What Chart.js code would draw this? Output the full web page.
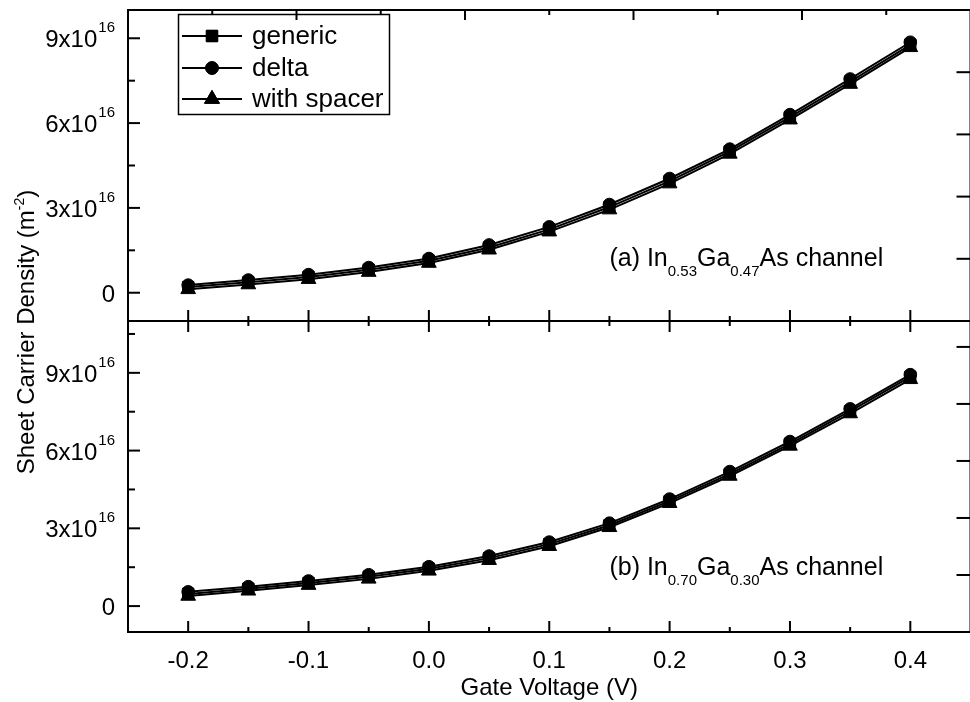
<!DOCTYPE html>
<html>
<head>
<meta charset="utf-8">
<style>
html,body{margin:0;padding:0;background:#fff;overflow:hidden;width:970px;height:702px;}
#wrap{position:relative;width:980px;height:702px;}
canvas{display:block;}
</style>
<script src="https://cdn.jsdelivr.net/npm/chart.js@4.4.0/dist/chart.umd.min.js"></script>
</head>
<body>
<div id="wrap"><canvas id="c" width="980" height="702"></canvas></div>
<script>
// ---------- data: sheet carrier density in units of 10^16 m^-2 ----------
const EXPONENT = 16;
const voltages = [-0.2, -0.15, -0.1, -0.05, 0.0, 0.05, 0.1, 0.15, 0.2, 0.25, 0.3, 0.35, 0.4];
const seriesNames = ['generic', 'delta', 'with spacer'];

// (a) In0.53Ga0.47As channel
const topGeneric = [0.20, 0.37, 0.56, 0.81, 1.13, 1.60, 2.24, 3.03, 3.95, 5.00, 6.21, 7.47, 8.77];
const topDelta   = [0.27, 0.45, 0.64, 0.89, 1.21, 1.69, 2.33, 3.12, 4.04, 5.08, 6.30, 7.56, 8.86];
const topSpacer  = [0.12, 0.29, 0.48, 0.73, 1.05, 1.52, 2.16, 2.94, 3.86, 4.91, 6.12, 7.38, 8.68];

// (b) In0.70Ga0.30As channel
const botGeneric = [0.47, 0.67, 0.89, 1.13, 1.44, 1.85, 2.39, 3.12, 4.05, 5.10, 6.26, 7.52, 8.84];
const botDelta   = [0.55, 0.75, 0.97, 1.21, 1.52, 1.93, 2.47, 3.20, 4.13, 5.19, 6.35, 7.61, 8.93];
const botSpacer  = [0.39, 0.59, 0.81, 1.05, 1.36, 1.77, 2.31, 3.04, 3.97, 5.02, 6.18, 7.43, 8.75];

const xTickLabels = ['-0.2', '-0.1', '0.0', '0.1', '0.2', '0.3', '0.4'];
const xTitle = 'Gate Voltage (V)';
const yTitleMain = 'Sheet Carrier Density (m';
const yTitleSup = '-2';
const yTitleEnd = ')';
// panel notes: [text, isSubscript]
const noteTop = [['(a) In', 0], ['0.53', 1], ['Ga', 0], ['0.47', 1], ['As channel', 0]];
const noteBot = [['(b) In', 0], ['0.70', 1], ['Ga', 0], ['0.30', 1], ['As channel', 0]];

// ---------- chart ----------
const FONT = '"Liberation Sans", Arial, Helvetica, sans-serif';
Chart.defaults.font.family = FONT;

const styles = [
  {pointStyle: 'rect', r: 8},
  {pointStyle: 'circle', r: 6.3},
  {pointStyle: 'triangle', r: 8.5}
];
const orders = [3, 2, 1];

function mk(i, values, axis) {
  return {
    label: seriesNames[i],
    data: voltages.map((x, k) => ({x: x, y: values[k]})),
    yAxisID: axis,
    borderColor: '#000',
    backgroundColor: '#000',
    borderWidth: 2,
    pointStyle: styles[i].pointStyle,
    pointRadius: styles[i].r,
    pointHoverRadius: styles[i].r,
    pointBorderColor: '#000',
    pointBackgroundColor: '#000',
    pointBorderWidth: 1,
    tension: 0,
    fill: false,
    order: orders[i]
  };
}

const datasets = [
  mk(0, topGeneric, 'yTop'), mk(1, topDelta, 'yTop'), mk(2, topSpacer, 'yTop'),
  mk(0, botGeneric, 'yBot'), mk(1, botDelta, 'yBot'), mk(2, botSpacer, 'yBot')
];

function isMult(v, step) {
  const q = v / step;
  return Math.abs(q - Math.round(q)) < 1e-6;
}

// minor tick step 1.5 (x10^16), majors every 3
function yTicks(s) {
  const step = 1.5, out = [];
  for (let k = Math.ceil(s.min / step); k * step <= s.max + 1e-9; k++) {
    out.push({value: +(k * step).toFixed(6)});
  }
  s.ticks = out;
}

function drawMarker(ctx, style, r, x, y) {
  if (Chart.helpers && Chart.helpers.drawPoint) {
    Chart.helpers.drawPoint(ctx, {pointStyle: style, radius: r, rotation: 0, borderWidth: 1}, x, y);
    ctx.fill();
    ctx.stroke();
  }
}

function drawRich(ctx, parts, x, y, mainPx, subPx, subDy) {
  let cx = x;
  for (const [t, sub] of parts) {
    ctx.font = (sub ? subPx : mainPx) + 'px ' + FONT;
    ctx.fillText(t, cx, y + (sub ? subDy : 0));
    cx += ctx.measureText(t).width;
  }
}

const decor = {
  id: 'decor',
  afterDraw(chart) {
    const ctx = chart.ctx;
    const xs = chart.scales.x, yt = chart.scales.yTop, yb = chart.scales.yBot;
    const L = chart.chartArea.left, R = chart.chartArea.right;
    ctx.save();
    ctx.strokeStyle = '#000';
    ctx.fillStyle = '#000';
    ctx.lineWidth = 2;
    ctx.lineCap = 'butt';
    const line = (x1, y1, x2, y2) => { ctx.beginPath(); ctx.moveTo(x1, y1); ctx.lineTo(x2, y2); ctx.stroke(); };

    // frames
    ctx.strokeRect(L, yt.top, R - L, yt.bottom - yt.top);
    ctx.strokeRect(L, yb.top, R - L, yb.bottom - yb.top);

    // x ticks (bottom axis, shared mid line) + labels
    ctx.font = '24px ' + FONT;
    ctx.textAlign = 'center';
    ctx.textBaseline = 'alphabetic';
    let li = 0;
    xs.ticks.forEach(t => {
      const v = t.value;
      const px = xs.getPixelForValue(v);
      if (px <= L + 1 || px >= R - 1) return;
      const maj = isMult(v, 0.1);
      const len = maj ? 11 : 5;
      line(px, yb.bottom, px, yb.bottom - len);
      line(px, yt.bottom, px, yt.bottom - len);
      line(px, yb.top, px, yb.top + len);
      if (maj) {
        ctx.fillText(xTickLabels[li++], px, 668);
      }
    });
    // top border of upper panel: ten equal divisions
    for (let k = 1; k < 10; k++) {
      const px = L + (R - L) * k / 10;
      line(px, yt.top, px, yt.top + (k % 2 === 0 ? 10 : 5));
    }

    // y ticks + labels
    [yt, yb].forEach(s => {
      s.ticks.forEach(t => {
        const v = t.value;
        const py = s.getPixelForValue(v);
        if (py <= s.top + 1 || py >= s.bottom - 1) return;
        const maj = isMult(v, 3);
        line(L, py, L + (maj ? 12 : 7), py);
        if (maj) {
          const n = Math.round(v);
          ctx.textAlign = 'right';
          if (n === 0) {
            ctx.font = '24px ' + FONT;
            ctx.fillText('0', 115, py + 9);
          } else {
            ctx.font = '15px ' + FONT;
            const sup = String(EXPONENT);
            const sw = ctx.measureText(sup).width;
            ctx.fillText(sup, 115, py - 6);
            ctx.font = '24px ' + FONT;
            ctx.fillText(n + 'x10', 115 - sw - 1, py + 9);
          }
        }
      });
    });
    // right side ticks
    for (let k = 1; k < 5; k++) {
      const py = yt.top + (yt.bottom - yt.top) * k / 5;
      line(R, py, R - 14, py);
    }
    for (let k = 1; k <= 5; k++) {
      const py = yb.getPixelForValue(yb.min + k * 2.2);
      if (py > yb.top + 2) line(R, py, R - 14, py);
    }

    // axis titles
    ctx.textAlign = 'center';
    ctx.font = '24px ' + FONT;
    ctx.fillText(xTitle, (L + R) / 2, 695);

    ctx.save();
    ctx.translate(34, 332);
    ctx.rotate(-Math.PI / 2);
    ctx.textAlign = 'left';
    ctx.font = '24px ' + FONT;
    const w1 = ctx.measureText(yTitleMain).width;
    const w3 = ctx.measureText(yTitleEnd).width;
    ctx.font = '14px ' + FONT;
    const w2 = ctx.measureText(yTitleSup).width;
    let sx = -(w1 + w2 + w3) / 2;
    ctx.font = '24px ' + FONT;
    ctx.fillText(yTitleMain, sx, 0);
    ctx.font = '14px ' + FONT;
    ctx.fillText(yTitleSup, sx + w1, -10);
    ctx.font = '24px ' + FONT;
    ctx.fillText(yTitleEnd, sx + w1 + w2, 0);
    ctx.restore();

    // panel notes
    ctx.textAlign = 'left';
    drawRich(ctx, noteTop, xs.getPixelForValue(0.15), yt.getPixelForValue(0.94), 25, 15, 10);
    drawRich(ctx, noteBot, xs.getPixelForValue(0.15), yb.getPixelForValue(1.21), 25, 15, 10);

    // legend
    ctx.lineWidth = 1.5;
    ctx.strokeRect(178.5, 14.5, 211, 100);
    const rowsY = [36, 68, 99];
    ctx.font = '26px ' + FONT;
    ctx.textAlign = 'left';
    ctx.textBaseline = 'middle';
    for (let i = 0; i < 3; i++) {
      const y = rowsY[i];
      ctx.lineWidth = 2;
      line(182, y, 242, y);
      ctx.lineWidth = 1;
      drawMarker(ctx, styles[i].pointStyle, styles[i].r, 212, y);
      ctx.fillText(seriesNames[i], 252, y + 1);
    }
    ctx.restore();
  }
};

new Chart(document.getElementById('c'), {
  type: 'line',
  data: {datasets: datasets},
  options: {
    responsive: false,
    animation: false,
    devicePixelRatio: 1,
    layout: {padding: {top: 10, right: 1, left: 0, bottom: 0}},
    plugins: {legend: {display: false}, tooltip: {enabled: false}},
    scales: {
      x: {
        type: 'linear', min: -0.25, max: 0.45,
        ticks: {display: false, stepSize: 0.05, includeBounds: false},
        grid: {display: false}, border: {display: false},
        afterFit(s) { s.height = 70; }
      },
      yBot: {
        type: 'linear', position: 'left', stack: 'panels', stackWeight: 1, weight: 0,
        min: -1, max: 11,
        ticks: {display: false},
        afterBuildTicks: yTicks,
        grid: {display: false}, border: {display: false},
        afterFit(s) { s.width = 128; }
      },
      yTop: {
        type: 'linear', position: 'left', stack: 'panels', stackWeight: 1, weight: 1,
        min: -1, max: 10,
        ticks: {display: false},
        afterBuildTicks: yTicks,
        grid: {display: false}, border: {display: false},
        afterFit(s) { s.width = 128; }
      }
    }
  },
  plugins: [decor]
});
</script>
</body>
</html>
